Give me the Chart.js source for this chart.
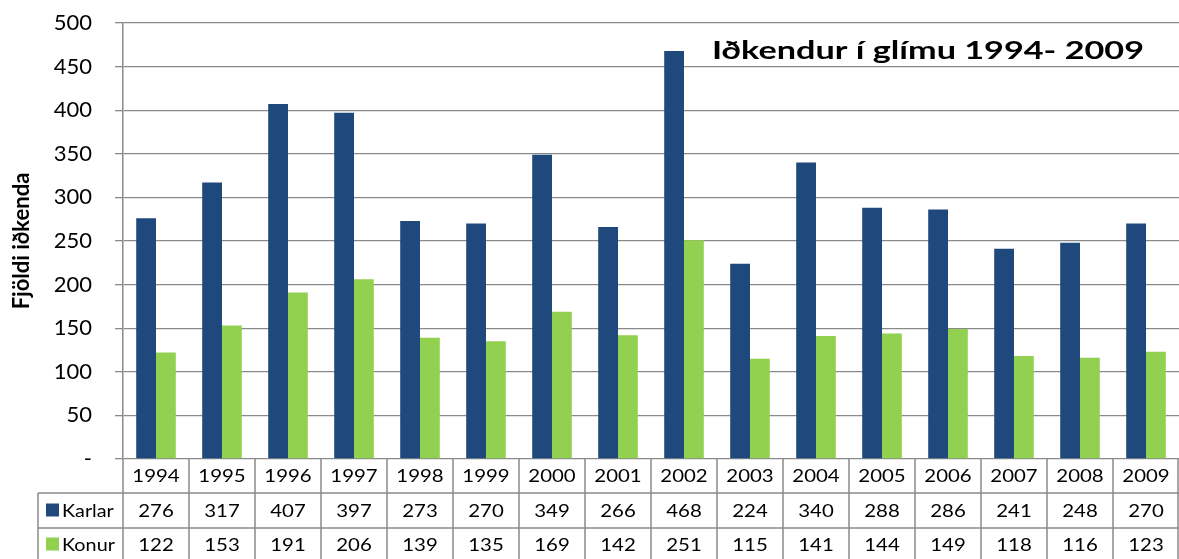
<!DOCTYPE html>
<html lang="is">
<head>
    <meta charset="UTF-8">
    <title>Iðkendur í glímu 1994- 2009</title>
    <script src="https://cdn.jsdelivr.net/npm/chart.js"></script>
    <style>
        body { margin: 0; background: #fff; }
        #wrap { width: 1179px; height: 559px; }
    </style>
</head>
<body>
<div id="wrap"><canvas id="glimaChart" width="1179" height="559"></canvas></div>

<script>
    const years = ['1994', '1995', '1996', '1997', '1998', '1999', '2000', '2001',
        '2002', '2003', '2004', '2005', '2006', '2007', '2008', '2009'];
    const karlar = [276, 317, 407, 397, 273, 270, 349, 266, 468, 224, 340, 288, 286, 241, 248, 270];
    const konur = [122, 153, 191, 206, 139, 135, 169, 142, 251, 115, 141, 144, 149, 118, 116, 123];
    const seriesNames = ['Karlar', 'Konur'];
    const chartTitle = 'Iðkendur í glímu 1994- 2009';
    const yAxisTitle = 'Fjöldi iðkenda';

    const blue = '#1F497D';
    const green = '#92D050';
    const lineGray = '#8a8a8a';
    const fontName = 'Lato, "Open Sans", sans-serif';

    // text a bit wider than the font gives, like the stretched original
    function wideText(ctx, text, x, y, sx) {
        ctx.save();
        ctx.translate(x, y);
        ctx.scale(sx, 1);
        ctx.fillText(text, 0, 0);
        ctx.restore();
    }

    // data table under the plot + title inside the plot
    const tablePlugin = {
        id: 'dataTable',
        afterDraw(chart) {
            const ctx = chart.ctx;
            const a = chart.chartArea;
            const x = chart.scales.x;
            const colW = (a.right - a.left) / years.length;
            const rowH = [34, 35, 33];
            const r1 = a.bottom + rowH[0];
            const r2 = r1 + rowH[1];
            const r3 = r2 + rowH[2];
            const legLeft = 38;

            ctx.save();
            ctx.strokeStyle = lineGray;
            ctx.lineWidth = 1.5;
            ctx.beginPath();
            ctx.moveTo(legLeft, r1); ctx.lineTo(a.right, r1);
            ctx.moveTo(legLeft, r2); ctx.lineTo(a.right, r2);
            ctx.moveTo(legLeft, r1); ctx.lineTo(legLeft, r3);
            for (let i = 0; i <= years.length; i++) {
                const cx = Math.min(a.left + i * colW, a.right - 1);
                ctx.moveTo(cx, a.bottom); ctx.lineTo(cx, r3);
            }
            ctx.stroke();

            ctx.fillStyle = '#000';
            ctx.textAlign = 'center';
            ctx.textBaseline = 'middle';
            ctx.font = '17px ' + fontName;
            years.forEach((yr, i) => {
                const cx = x.getPixelForValue(i);
                wideText(ctx, yr, cx, a.bottom + rowH[0] / 2 + 1, 1.2);
                wideText(ctx, String(karlar[i]), cx, r1 + rowH[1] / 2 + 1, 1.2);
                wideText(ctx, String(konur[i]), cx, r2 + rowH[2] / 2 + 1, 1.2);
            });

            // legend keys
            ctx.textAlign = 'left';
            ctx.font = '18px ' + fontName;
            [[blue, r1], [green, r2]].forEach(([col, top], k) => {
                const mid = top + rowH[k + 1] / 2;
                ctx.fillStyle = col;
                ctx.fillRect(legLeft + 8, mid - 7, 13, 13);
                ctx.fillStyle = '#000';
                wideText(ctx, seriesNames[k], legLeft + 24, mid + 1, 1.1);
            });

            // chart title, stretched to the original's width
            ctx.font = 'bold 24px ' + fontName;
            ctx.textBaseline = 'alphabetic';
            const tw = ctx.measureText(chartTitle).width;
            wideText(ctx, chartTitle, 712, 59, 432 / tw);
            ctx.restore();
        }
    };

    const ctx1 = document.getElementById('glimaChart').getContext('2d');
    const glimaChart = new Chart(ctx1, {
        type: 'bar',
        data: {
            labels: years,
            datasets: [{
                label: seriesNames[0],
                data: karlar,
                backgroundColor: blue,
                categoryPercentage: 0.6,
                barPercentage: 1.0
            }, {
                label: seriesNames[1],
                data: konur,
                backgroundColor: green,
                categoryPercentage: 0.6,
                barPercentage: 1.0
            }]
        },
        options: {
            responsive: false,
            animation: false,
            layout: { padding: { top: 23, bottom: 100, left: 0, right: 0 } },
            plugins: {
                legend: { display: false },
                tooltip: { enabled: false }
            },
            scales: {
                x: {
                    display: false
                },
                y: {
                    min: 0,
                    max: 500,
                    ticks: {
                        stepSize: 50,
                        color: '#000',
                        padding: 23,
                        font: { family: fontName, size: 22 },
                        callback: v => v === 0 ? '-' : v
                    },
                    grid: {
                        color: lineGray,
                        lineWidth: 1.3,
                        tickLength: 8
                    },
                    border: { color: lineGray, width: 1.5 },
                    title: {
                        display: true,
                        text: yAxisTitle,
                        color: '#000',
                        padding: { top: 9 },
                        font: { family: fontName, size: 22, weight: 'bold' }
                    },
                    afterFit(scale) {
                        scale.width = 123;
                        // tick padding should not push the plot down
                        scale.paddingTop = 12;
                        scale.paddingBottom = 12;
                    }
                }
            }
        },
        plugins: [tablePlugin]
    });
</script>
</body>
</html>
